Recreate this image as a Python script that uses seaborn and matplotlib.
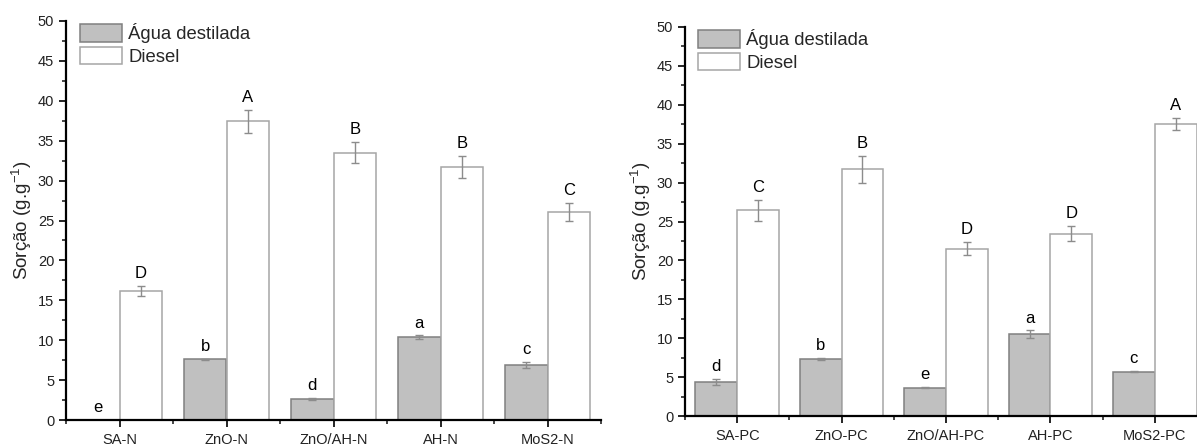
import pandas as pd
import numpy as np
import matplotlib
matplotlib.use("Agg")
import matplotlib.pyplot as plt
from matplotlib.patches import Patch
import seaborn as sns

# Data
cat_n = ["SA-N", "ZnO-N", "ZnO/AH-N", "AH-N", "MoS2-N"]
agua_n = [0.0, 7.6, 2.6, 10.4, 6.9]
agua_n_err = [0.0, 0.1, 0.15, 0.2, 0.35]
diesel_n = [16.15, 37.45, 33.5, 31.7, 26.1]
diesel_n_err = [0.65, 1.45, 1.35, 1.35, 1.1]
letters_agua_n = ["e", "b", "d", "a", "c"]
letters_diesel_n = ["D", "A", "B", "B", "C"]

cat_pc = ["SA-PC", "ZnO-PC", "ZnO/AH-PC", "AH-PC", "MoS2-PC"]
agua_pc = [4.4, 7.3, 3.65, 10.5, 5.7]
agua_pc_err = [0.4, 0.15, 0.1, 0.5, 0.1]
diesel_pc = [26.45, 31.7, 21.5, 23.45, 37.5]
diesel_pc_err = [1.35, 1.7, 0.85, 0.95, 0.8]
letters_agua_pc = ["d", "b", "e", "a", "c"]
letters_diesel_pc = ["C", "B", "D", "D", "A"]

series = ["Água destilada", "Diesel"]
fills = ["#c0c0c0", "#ffffff"]
edges = ["#808080", "#a6a6a6"]

sns.set_style("ticks")
plt.rcParams["font.family"] = ["Liberation Sans", "DejaVu Sans"]
plt.rcParams["mathtext.fontset"] = "custom"
plt.rcParams["mathtext.rm"] = "Liberation Sans"

fig = plt.figure(figsize=(11.97, 4.46), dpi=100)
ax1 = fig.add_axes([66 / 1197, 26 / 446, 535 / 1197, 399 / 446])
ax2 = fig.add_axes([685 / 1197, 30 / 446, 522 / 1197, 389 / 446])


def panel(ax, cats, agua, agua_err, diesel, diesel_err, let_a, let_d, leg_anchor):
    df = pd.DataFrame({
        "cat": cats * 2,
        "serie": [series[0]] * len(cats) + [series[1]] * len(cats),
        "val": agua + diesel,
    })
    sns.barplot(data=df, x="cat", y="val", hue="serie", order=cats,
                hue_order=series, palette=fills, width=0.8, gap=0,
                errorbar=None, legend=False, ax=ax, saturation=1)
    errs = [agua_err, diesel_err]
    lets = [let_a, let_d]
    bar_groups = list(ax.containers)[:2]
    for k, cont in enumerate(bar_groups):
        for j, bar in enumerate(cont.patches):
            bar.set_edgecolor(edges[k])
            bar.set_linewidth(1.1)
            xc = bar.get_x() + bar.get_width() / 2
            h = bar.get_height()
            e = errs[k][j]
            if e > 0:
                ax.errorbar(xc, h, yerr=e, fmt="none", ecolor="#8c8c8c",
                            elinewidth=1, capsize=3, capthick=1)
            ax.annotate(lets[k][j], (xc, h + e), xytext=(0, 3.5),
                        textcoords="offset points", ha="center", va="bottom",
                        fontsize=12, color="black")
    ax.set_xlim(-0.5, 4.5)
    ax.set_ylim(0, 50)
    ax.set_yticks(np.arange(0, 51, 5))
    ax.set_yticks(np.arange(0, 50, 2.5), minor=True)
    ax.set_xticks(np.arange(-0.5, 5, 1), minor=True)
    ax.set_xlabel("")
    ax.set_ylabel("Sorção (g.g$^{\\mathregular{-1}}$)", fontsize=13.5, labelpad=3)
    ax.tick_params(axis="both", which="major", labelsize=10.5, length=5,
                   width=1.2, colors="black", labelcolor="#222222")
    ax.tick_params(axis="both", which="minor", length=3, width=1.2)
    ax.tick_params(axis="x", which="major", pad=4)
    for s in ["top", "right"]:
        ax.spines[s].set_visible(False)
    for s in ["left", "bottom"]:
        ax.spines[s].set_linewidth(1.6)
        ax.spines[s].set_color("black")
    handles = [Patch(facecolor=fills[i], edgecolor=edges[i],
                     linewidth=1.1, label=series[i]) for i in range(2)]
    ax.legend(handles=handles, loc="upper left", bbox_to_anchor=leg_anchor,
              frameon=False, fontsize=13.3, handlelength=2.25, handleheight=1.1,
              labelspacing=0.2, handletextpad=0.35, borderpad=0, borderaxespad=0)


panel(ax1, cat_n, agua_n, agua_n_err, diesel_n, diesel_n_err,
      letters_agua_n, letters_diesel_n, (14 / 535, 1 - 2 / 399))
panel(ax2, cat_pc, agua_pc, agua_pc_err, diesel_pc, diesel_pc_err,
      letters_agua_pc, letters_diesel_pc, (13 / 522, 1 - 2 / 389))

fig.savefig("out.png", dpi=100)
